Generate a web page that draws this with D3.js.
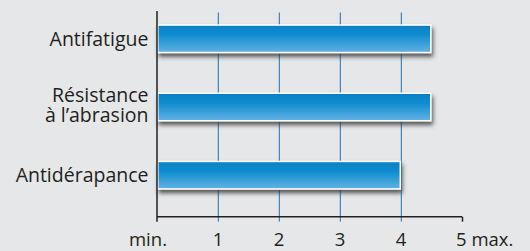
<!DOCTYPE html>
<html>
<head>
<meta charset="utf-8">
<script src="https://cdn.jsdelivr.net/npm/d3@7"></script>
<style>
html,body{margin:0;padding:0;background:#e6e7e8;}
svg{display:block;}
text{font-family:"Open Sans",sans-serif;fill:#231f20;}
</style>
</head>
<body>
<svg id="chart" width="530" height="251"></svg>
<script>
const categories = [["Antifatigue"], ["Résistance", "à l’abrasion"], ["Antidérapance"]];
const values = [4.5, 4.5, 4.0];
const tickValues = [0, 1, 2, 3, 4, 5];
const tickLabels = ["min.", "1", "2", "3", "4", "5 max."];

const svg = d3.select("#chart");

const x = d3.scaleLinear().domain([0, 5]).range([157, 462]);
const keys = categories.map(c => c.join(" "));
const y = d3.scaleBand().domain(keys).range([4.7, 209.3]).paddingInner(0.575).paddingOuter(0.2875);
const axisY = 216.7;

const defs = svg.append("defs");
const grad = defs.append("linearGradient").attr("id", "barGrad").attr("x1", 0).attr("y1", 0).attr("x2", 0).attr("y2", 1);
grad.append("stop").attr("offset", "0%").attr("stop-color", "#0580c4");
grad.append("stop").attr("offset", "35%").attr("stop-color", "#0e8ccf");
grad.append("stop").attr("offset", "100%").attr("stop-color", "#62b2e4");
const f = defs.append("filter").attr("id", "shadow").attr("x", "-10%").attr("y", "-30%").attr("width", "120%").attr("height", "180%");
f.append("feDropShadow").attr("dx", 1.5).attr("dy", 3.5).attr("stdDeviation", 2).attr("flood-color", "#3a3a3a").attr("flood-opacity", 0.85);

// gridlines
svg.append("g").selectAll("line").data(tickValues.filter(d => d > 0 && d < 5)).join("line")
  .attr("x1", d => x(d) + 0.3).attr("x2", d => x(d) + 0.3)
  .attr("y1", 12.5).attr("y2", axisY + 5)
  .attr("stroke", "#1b72b6").attr("stroke-width", 1);

// bars
svg.append("g").selectAll("rect").data(values).join("rect")
  .attr("x", x(0) + 0.8)
  .attr("y", (d, i) => y(keys[i]) + 0.75)
  .attr("width", d => x(d) - x(0) - 1.5)
  .attr("height", y.bandwidth() - 1.5)
  .attr("fill", "url(#barGrad)")
  .attr("stroke", "#ffffff").attr("stroke-width", 1.5)
  .attr("filter", "url(#shadow)");

// axes
const xAxis = d3.axisBottom(x).tickValues([5]).tickSize(5).tickFormat("");
const gx = svg.append("g").attr("transform", `translate(0,${axisY})`).call(xAxis);
gx.select(".domain").attr("d", `M${x(0)},0H${x(5)}`).attr("stroke", "#231f20").attr("stroke-width", 1.5);
gx.selectAll(".tick line").attr("stroke", "#231f20").attr("stroke-width", 1.5);

svg.append("line").attr("x1", x(0)).attr("x2", x(0)).attr("y1", 11).attr("y2", axisY + 5)
  .attr("stroke", "#231f20").attr("stroke-width", 1.5);

// tick labels
svg.append("g").selectAll("text").data(tickValues).join("text")
  .attr("x", (d, i) => i === 0 ? x(d) + 10 : (i === tickValues.length - 1 ? x(d) - 6 : x(d)))
  .attr("y", 245.6)
  .attr("text-anchor", (d, i) => i === 0 ? "end" : (i === tickValues.length - 1 ? "start" : "middle"))
  .attr("font-size", 18.5)
  .text((d, i) => tickLabels[i]);

// category labels
const lh = 19.4;
const lab = svg.append("g").selectAll("text").data(categories).join("text")
  .attr("text-anchor", "end")
  .attr("font-size", 19.5)
  .attr("y", (c, i) => y(keys[i]) + y.bandwidth() / 2 + 6.8 - (c.length - 1) * (lh / 2 + 2));
lab.selectAll("tspan").data(c => c).join("tspan")
  .attr("x", 148.5)
  .attr("dy", (d, j) => j === 0 ? 0 : lh)
  .text(d => d);
</script>
</body>
</html>
